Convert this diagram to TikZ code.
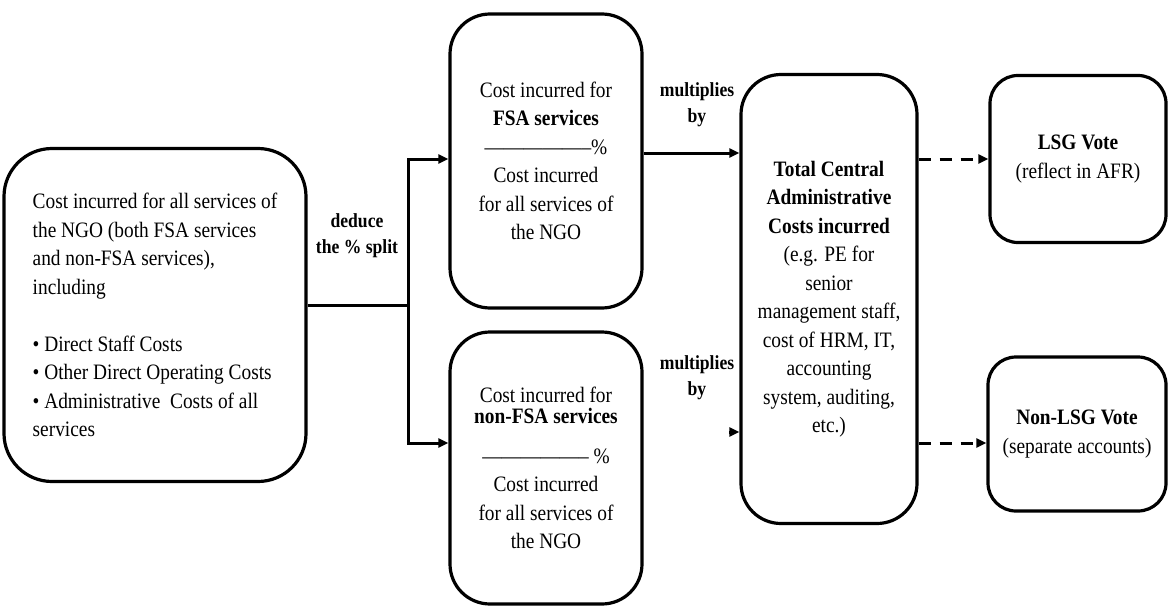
\documentclass[tikz,border=0pt]{standalone}
\usepackage{fontspec}
\setmainfont{Liberation Serif}[FakeStretch=0.88]
\usetikzlibrary{arrows.meta,positioning,calc}
\tikzset{
  box/.style={draw=black,line width=3.2pt,rounded corners=40pt,align=center,inner sep=4pt,font=\fontsize{22}{28.5}\selectfont},
  smallbox/.style={box,rounded corners=28pt},
  flowtext/.style={align=center,inner sep=1pt,font=\fontsize{20}{26}\selectfont\bfseries},
  flow/.style={-{Triangle[length=10pt,width=9pt]},line width=3pt},
  voteflow/.style={flow,dash pattern=on 12pt off 9pt}
}

\begin{document}
\begin{tikzpicture}[x=1pt,y=-1pt]
  \useasboundingbox (0,0) rectangle (1173,610);
  \node[box,rounded corners=48pt,minimum width=302pt,minimum height=333pt,align=left] (allcost) at (155,315) {Cost incurred for all services of\\the NGO (both FSA services\\and non-FSA services),\\including\\[28.5pt]\textbullet\ Direct Staff Costs\\\textbullet\ Other Direct Operating Costs\\\textbullet\ Administrative\ \ Costs of all\\services};
  \node[box,minimum width=192pt,minimum height=294pt] (fsa) at (546,161) {Cost incurred for\\\textbf{FSA services}\\-----------------\%\\Cost incurred\\for all services of\\the NGO};
  \node[box,minimum width=192pt,minimum height=272pt] (nonfsa) at (546,468) {Cost incurred for\\[-7pt]\textbf{non-FSA services}\\[11pt]----------------- \%\\Cost incurred\\for all services of\\the NGO};
  \node[box,minimum width=176pt,minimum height=449pt] (tca) at (829,299) {\textbf{Total Central}\\\textbf{Administrative}\\\textbf{Costs incurred}\\(e.g. PE for\\senior\\management staff,\\cost of HRM, IT,\\accounting\\system, auditing,\\etc.)};
  \node[smallbox,minimum width=176pt,minimum height=167pt] (lsg) at (1078,159) {\textbf{LSG Vote}\\(reflect in AFR)};
  \node[smallbox,minimum width=178pt,minimum height=154pt] (nonlsg) at (1077,434) {\textbf{Non-LSG Vote}\\(separate accounts)};
  \node[flowtext] (deduce) at (357,236) {deduce\\the \% split};
  \node[flowtext] (mulup) at (697,105) {multiplies\\by};
  \node[flowtext] (mullow) at (697,378) {multiplies\\by};
  \coordinate (split) at (408,305);
  \coordinate (tcain) at (729,432);
  \draw[line width=3pt] (allcost.east |- split) -- (split);
  \draw[flow] (split) |- ([yshift=2pt]fsa.west);
  \draw[flow] (split) |- ([yshift=25pt]nonfsa.west);
  \draw[flow] ([yshift=8pt]fsa.east) -- ($(tca.west)+(0,-146)$);
  \draw[flow] (tcain) -- (tca.west |- tcain);
  \draw[voteflow] (tca.east |- lsg.west) -- (lsg.west);
  \draw[voteflow] ($(tca.east |- nonlsg.west)+(0,9)$) -- ([yshift=-9pt]nonlsg.west);
\end{tikzpicture}
\end{document}
